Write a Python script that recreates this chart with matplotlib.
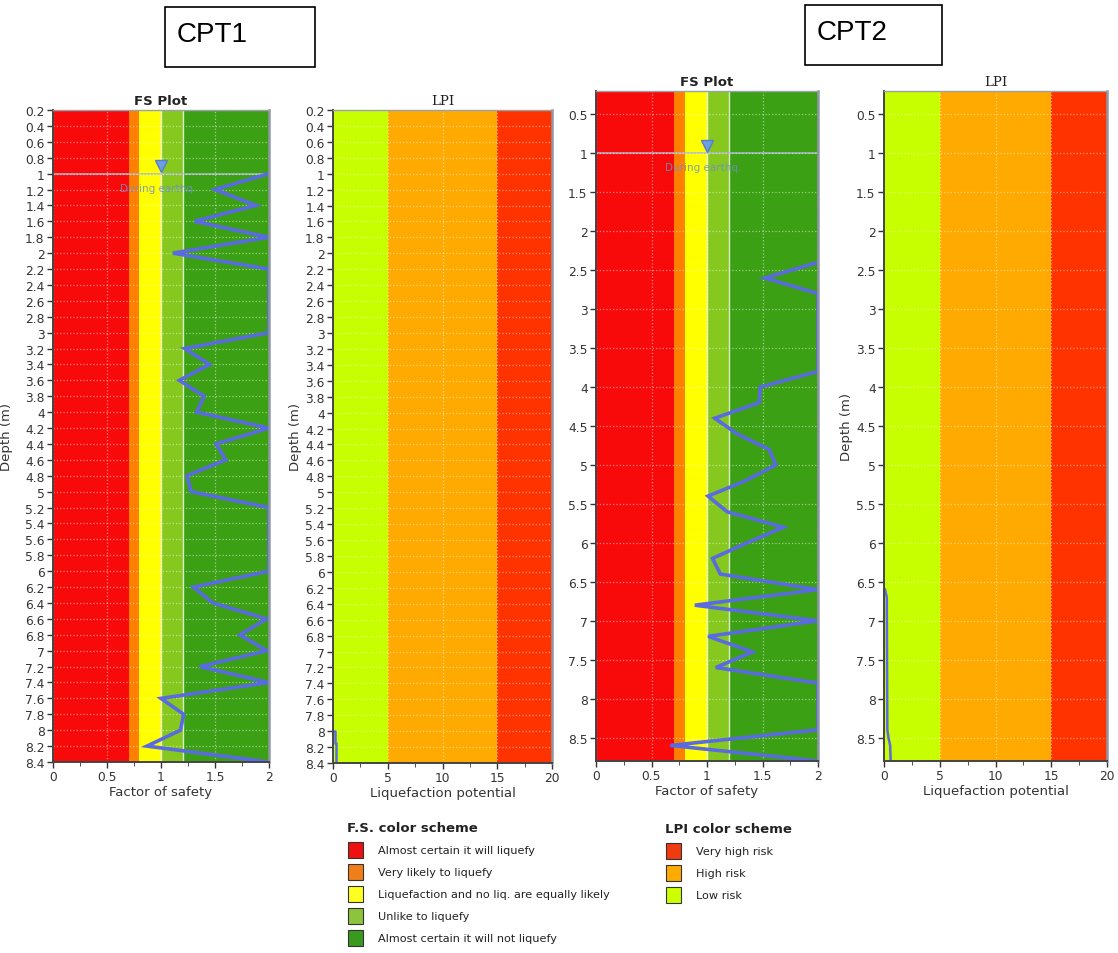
import matplotlib
matplotlib.use("Agg")
import matplotlib.pyplot as plt
from matplotlib.patches import Rectangle
from matplotlib.ticker import MultipleLocator, FuncFormatter

# CPT1 factor of safety vs depth (m)
cpt1_depth = [1.0, 1.2, 1.4, 1.6, 1.8, 2.0, 2.2, 2.4, 2.6, 2.8, 3.0, 3.2, 3.4, 3.6, 3.8,
              4.0, 4.2, 4.4, 4.6, 4.8, 5.0, 5.2, 5.4, 5.6, 5.8, 6.0, 6.2, 6.4, 6.6, 6.8,
              7.0, 7.2, 7.4, 7.6, 7.8, 8.0, 8.2, 8.4]
cpt1_fs = [2.0, 1.50, 1.88, 1.31, 2.0, 1.11, 2.0, 2.0, 2.0, 2.0, 2.0, 1.22, 1.45, 1.17, 1.40,
           1.33, 2.0, 1.51, 1.60, 1.24, 1.28, 2.0, 2.0, 2.0, 2.0, 2.0, 1.30, 1.48, 1.98, 1.73,
           1.98, 1.36, 2.0, 1.0, 1.21, 1.18, 0.87, 2.0]

# CPT2 factor of safety vs depth (m)
cpt2_depth = [2.4, 2.6, 2.8, 3.0, 3.2, 3.4, 3.6, 3.8, 4.0, 4.2, 4.4, 4.6, 4.8, 5.0, 5.2,
              5.4, 5.6, 5.8, 6.0, 6.2, 6.4, 6.6, 6.8, 7.0, 7.2, 7.4, 7.6, 7.8, 8.0, 8.2,
              8.4, 8.6, 8.8]
cpt2_fs = [2.0, 1.52, 2.0, 2.0, 2.0, 2.0, 2.0, 2.0, 1.48, 1.47, 1.07, 1.27, 1.56, 1.62, 1.35,
           1.01, 1.18, 1.69, 1.36, 1.05, 1.12, 2.0, 0.89, 2.0, 1.01, 1.41, 1.08, 2.0, 2.0, 2.0,
           2.0, 0.67, 2.0]

# liquefaction potential index
lpi1_depth = [8.0, 8.0, 8.15, 8.15, 8.4]
lpi1_val = [0.0, 0.15, 0.15, 0.3, 0.3]
lpi2_depth = [6.6, 6.7, 8.4, 8.5, 8.6, 8.8]
lpi2_val = [0.1, 0.25, 0.3, 0.4, 0.55, 0.6]

water_depth = 1.0

fs_edges = [0, 0.7, 0.8, 1.0, 1.2, 2.0]
fs_colors = ["#f80a0a", "#ff7f00", "#ffff00", "#86c81e", "#3ca014"]
fs_labels = ["Almost certain it will liquefy", "Very likely to liquefy",
             "Liquefaction and no liq. are equally likely", "Unlike to liquefy",
             "Almost certain it will not liquefy"]
fs_legend_colors = ["#ee1111", "#f07f1a", "#ffff22", "#8cc43c", "#3a9a1f"]

lpi_edges = [0, 5, 15, 20]
lpi_colors = ["#c8ff00", "#ffaa00", "#ff3300"]
lpi_labels = ["Very high risk", "High risk", "Low risk"]
lpi_legend_colors = ["#f03a10", "#ffaa00", "#ccff00"]

W, H = 1118, 954
fig = plt.figure(figsize=(W / 100, H / 100), dpi=100)


def box(x0, y0, x1, y1):
    return [x0 / W, 1 - y1 / H, (x1 - x0) / W, (y1 - y0) / H]


fmt = FuncFormatter(lambda v, p: f"{round(v, 2):g}")
line_col = "#5a6ae0"


def style(ax, ylim, ystep, xmax, xstep, xminor, title, title_font, xlabel, ylabel, ylpad):
    ax.set_xlim(0, xmax)
    ax.set_ylim(ylim[1], ylim[0])
    ax.yaxis.set_major_locator(MultipleLocator(ystep))
    ax.yaxis.set_major_formatter(fmt)
    ax.xaxis.set_major_locator(MultipleLocator(xstep))
    ax.xaxis.set_minor_locator(MultipleLocator(xminor))
    ax.xaxis.set_major_formatter(fmt)
    ax.tick_params(labelsize=8.8, colors="#333333", length=4, width=1, pad=2)
    ax.tick_params(which="minor", length=3, color="#333333")
    ax.grid(True, which="major", color="white", alpha=0.5, linestyle=":", linewidth=0.9)
    for s in ("left", "bottom"):
        ax.spines[s].set_color("#444444")
        ax.spines[s].set_linewidth(1.4)
    ax.spines["top"].set_color("#9aa0a8")
    ax.spines["top"].set_linewidth(1.0)
    ax.spines["right"].set_color("#8f97a6")
    ax.spines["right"].set_linewidth(1.8)
    for sp in ax.spines.values():
        sp.set_zorder(4)
    ax.set_title(title, fontsize=9.5, pad=4, color="#222222", **title_font)
    ax.set_xlabel(xlabel, fontsize=9.5, color="#333333", labelpad=1)
    if ylabel:
        ax.set_ylabel(ylabel, fontsize=9.5, color="#333333", labelpad=ylpad)


def fs_panel(rect, depth, fs, ylim, ystep, ylabel):
    ax = fig.add_axes(rect)
    for i, c in enumerate(fs_colors):
        ax.axvspan(fs_edges[i], fs_edges[i + 1], color=c, lw=0, zorder=0)
    for e in fs_edges[3:5]:
        ax.axvline(e, color="white", lw=1.0, alpha=0.8, zorder=1)
    ax.axhline(water_depth, color="#aab8cc", lw=1.1, zorder=1)
    ax.plot([1.0], [water_depth - 0.1], marker="v", ms=8, color="#6f9fe0",
            mec="#5580c8", zorder=3)
    ax.text(0.97, water_depth + 0.18, "During earthq.", color="#6f8fc8", fontsize=7.5,
            ha="center", va="center", alpha=0.85, zorder=3)
    ax.plot(fs, depth, color=line_col, lw=2.6, zorder=2, solid_joinstyle="miter")
    style(ax, ylim, ystep, 2, 0.5, 0.25, "FS Plot", {"fontweight": "bold"},
          "Factor of safety", ylabel, 9)
    return ax


def lpi_panel(rect, depth, val, ylim, ystep):
    ax = fig.add_axes(rect)
    for i, c in enumerate(lpi_colors):
        ax.axvspan(lpi_edges[i], lpi_edges[i + 1], color=c, lw=0, zorder=0)
    ax.plot(val, depth, color=line_col, lw=1.8, zorder=2)
    style(ax, ylim, ystep, 20, 5, 2.5, "LPI", {"family": "DejaVu Serif"},
          "Liquefaction potential", "Depth (m)", 2)
    return ax


fs_panel(box(53, 111, 269, 763), cpt1_depth, cpt1_fs, (0.2, 8.4), 0.2, "Depth (m)")
lpi_panel(box(333, 111, 552, 764), lpi1_depth, lpi1_val, (0.2, 8.4), 0.2)
fs_panel(box(596, 92, 818, 762), cpt2_depth, cpt2_fs, (0.2, 8.8), 0.5, None)
lpi_panel(box(884, 92, 1107, 762), lpi2_depth, lpi2_val, (0.2, 8.8), 0.5)

# CPT name boxes
for (x0, y0, x1, y1), name in [((165, 8, 315, 68), "CPT1"), ((805, 6, 942, 66), "CPT2")]:
    fig.patches.append(Rectangle((x0 / W, 1 - y1 / H), (x1 - x0) / W, (y1 - y0) / H,
                                 transform=fig.transFigure, fill=False, ec="black", lw=1.2))
    fig.text((x0 + 12) / W, 1 - ((y0 + y1) / 2 - 3) / H, name, fontsize=20,
             family="Liberation Sans", va="center", ha="left")


# legends
def legend_block(x, y, title, labels, colors):
    fig.text(x / W, 1 - y / H, title, fontsize=9.5, fontweight="bold", color="#222222",
             va="center")
    for i, (lab, c) in enumerate(zip(labels, colors)):
        yy = y + 22 * (i + 1)
        fig.patches.append(Rectangle(((x + 1) / W, 1 - (yy + 8) / H), 15 / W, 16 / H,
                                     transform=fig.transFigure, fc=c, ec="#333333", lw=0.8))
        fig.text((x + 31) / W, 1 - yy / H, lab, fontsize=8.1, color="#222222", va="center")


legend_block(347, 829, "F.S. color scheme", fs_labels, fs_legend_colors)
legend_block(665, 830, "LPI color scheme", lpi_labels, lpi_legend_colors)

fig.savefig("out.png", dpi=100)
